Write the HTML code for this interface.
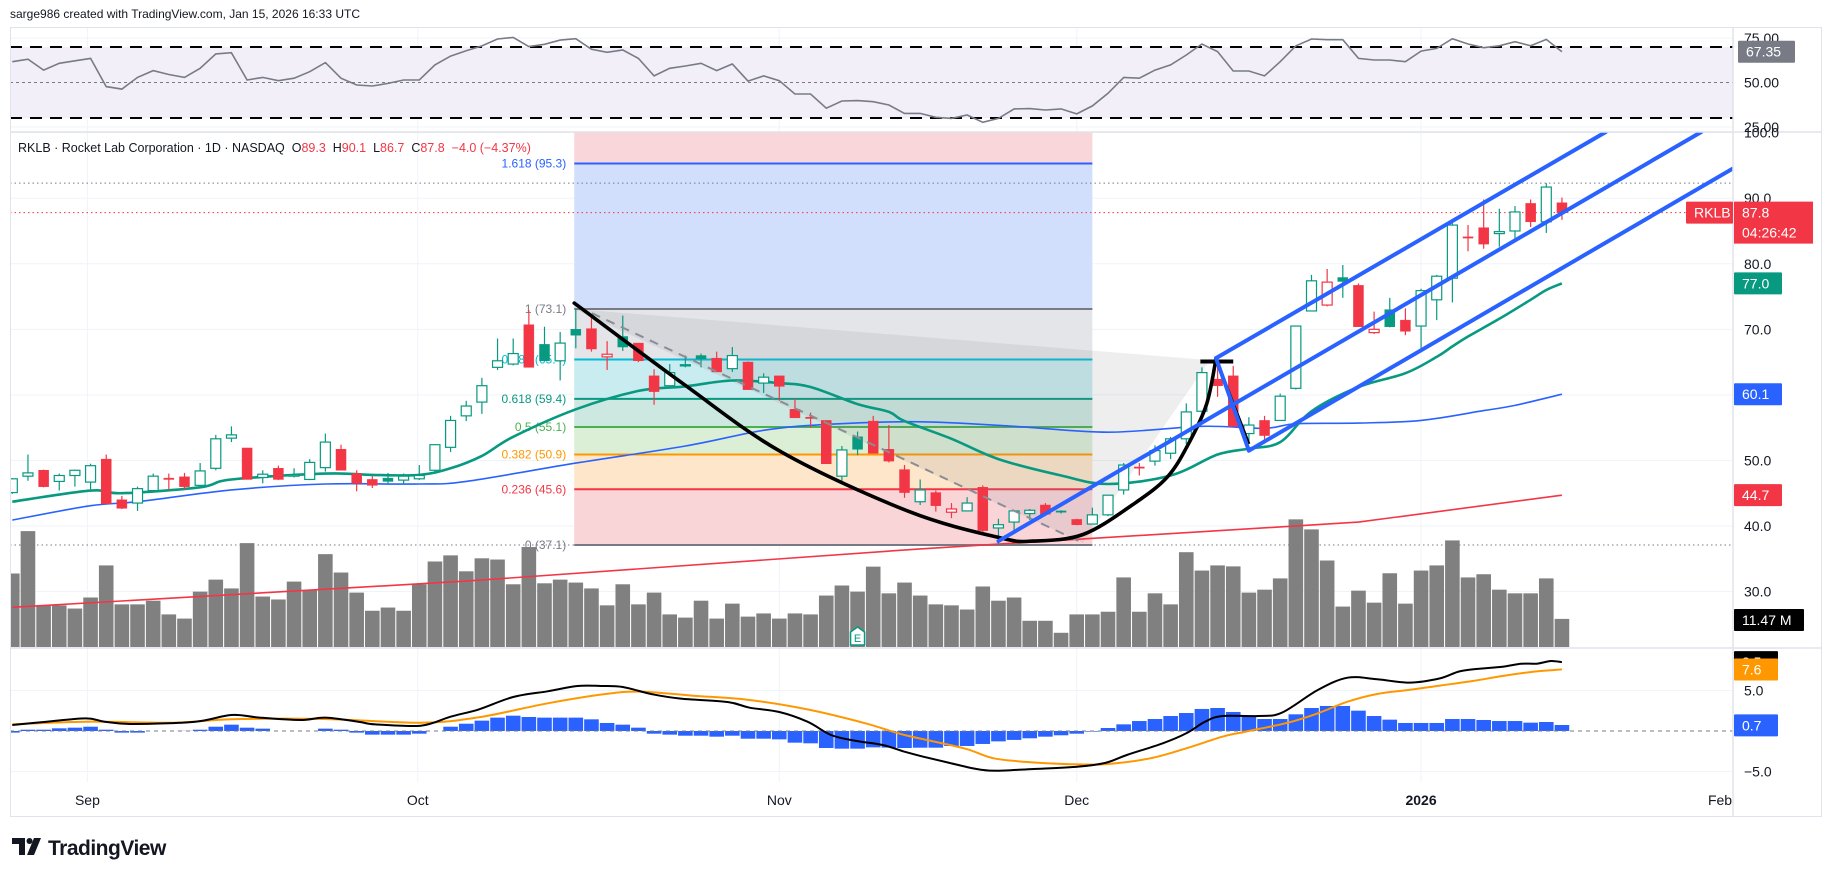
<!DOCTYPE html>
<html><head><meta charset="utf-8"><title>RKLB chart</title>
<style>
html,body{margin:0;padding:0;background:#fff;}
body{width:1827px;height:878px;overflow:hidden;position:relative;font-family:"Liberation Sans",sans-serif;}
#hdr{position:absolute;left:10px;top:7px;font-size:12px;color:#131722;}
svg{position:absolute;left:0;top:0;}
text{font-family:"Liberation Sans",sans-serif;}
</style></head>
<body>
<div id="hdr">sarge986 created with TradingView.com, Jan 15, 2026 16:33 UTC</div>
<svg id="chart" width="1827" height="878" viewBox="0 0 1827 878">
<defs>
<clipPath id="cMain"><rect x="10" y="132" width="1723" height="516"/></clipPath>
<clipPath id="cRsi"><rect x="10" y="27" width="1723" height="105"/></clipPath>
<clipPath id="cMacd"><rect x="10" y="648" width="1723" height="134"/></clipPath>
<clipPath id="cAxisM"><rect x="1733" y="648" width="94" height="134"/></clipPath>
<clipPath id="cTime"><rect x="10" y="782" width="1723" height="35"/></clipPath>
</defs>
</svg>
<script>
// ---------- DATA ----------
const opens = [45.1,47.6,48.5,46.8,47.7,46.7,50.2,44.0,43.5,45.4,47.3,47.5,46.2,48.8,53.4,51.9,47.4,48.8,47.6,47.1,48.9,51.7,48.0,47.1,47.3,47.0,47.2,48.5,52.0,56.8,58.9,64.2,64.7,70.7,67.7,65.2,70.0,70.1,65.8,68.9,67.9,62.9,61.4,64.5,66.0,65.6,64.0,65.0,61.8,62.9,57.8,56.6,56.1,47.6,53.6,56.0,51.7,48.6,43.7,45.1,42.1,42.3,45.9,39.7,40.6,41.9,43.2,42.3,41.0,40.3,41.7,45.5,49.0,49.9,51.1,53.3,57.5,62.4,62.9,54.1,56.1,56.1,61.0,72.8,73.7,77.9,76.7,69.5,73.0,71.4,70.5,74.5,77.8,84.1,85.5,84.6,85.0,89.2,86.4,89.3];
const highs = [47.3,50.9,48.6,48.0,48.6,49.5,50.9,44.6,46.0,48.0,48.0,48.1,49.6,53.9,55.2,51.9,48.5,49.2,48.8,50.2,54.1,52.4,48.5,47.6,48.1,48.0,49.3,52.5,56.8,59.1,62.6,68.6,68.6,72.9,70.4,69.6,73.1,72.1,68.2,72.1,67.9,63.9,64.7,66.0,66.3,66.6,67.3,65.1,63.3,62.9,59.4,57.3,56.1,52.2,54.4,56.8,55.4,49.3,47.1,45.4,43.5,44.4,46.2,41.1,42.3,42.6,43.5,42.4,41.1,42.8,44.7,49.6,49.6,52.3,53.6,58.7,64.2,65.2,64.4,56.6,56.8,60.2,70.5,78.3,79.2,79.8,77.0,72.7,74.8,73.2,76.2,78.3,86.2,85.9,89.8,88.4,88.8,89.8,92.3,90.1];
const lows = [44.9,46.9,45.9,45.4,46.0,45.6,43.4,42.6,42.3,45.4,45.5,45.6,45.9,48.5,52.8,47.1,46.5,47.0,47.4,47.0,48.3,48.5,45.3,45.8,46.3,46.4,47.0,48.3,51.3,56.0,57.1,63.8,64.5,64.2,65.2,62.2,67.1,66.6,63.8,66.7,65.0,58.5,61.0,64.2,64.2,63.5,63.5,60.8,60.3,59.1,56.5,55.0,49.5,46.4,50.8,51.1,49.7,44.3,43.2,42.2,41.2,42.3,39.1,37.1,39.3,40.9,41.7,41.9,40.1,40.3,41.5,44.8,47.7,49.2,50.2,52.5,56.7,59.7,55.2,52.9,53.0,56.1,60.8,72.8,73.5,74.8,70.4,69.3,70.3,69.1,67.1,71.4,74.1,81.9,82.3,82.6,83.8,85.6,84.7,86.7];
const closes = [47.2,48.1,46.0,47.7,48.5,49.2,43.4,42.7,45.7,47.6,47.1,46.0,48.4,53.3,53.9,47.1,47.9,47.1,47.8,49.7,52.8,48.5,46.5,46.2,46.8,47.6,47.7,52.4,56.1,58.3,61.4,65.2,66.3,64.2,65.2,67.9,69.1,67.0,66.2,67.3,65.2,60.5,63.4,64.6,65.5,63.5,66.0,60.8,62.7,61.3,56.5,56.4,49.5,51.6,51.7,51.1,49.9,45.1,45.5,43.1,42.6,43.5,39.3,40.2,42.3,42.4,41.8,42.1,40.2,41.7,44.7,49.3,48.9,51.5,53.3,57.4,63.4,61.4,55.2,55.4,53.8,59.8,70.5,77.4,77.2,77.3,70.4,70.0,70.4,69.7,75.9,78.1,85.9,84.0,83.0,84.9,87.9,86.4,91.7,87.8];
const volumes = [30,47.3,17,17,15.7,20.2,33.3,17.4,17.4,18.9,13.3,11.6,22.6,27.5,23.9,42.4,20.6,19.4,26.7,23.2,37.9,30.4,22.2,14.8,16.1,14.8,25.6,34.9,37.4,30.9,36.2,35.7,25.6,40.8,26,27.5,26.3,23.9,17,25.6,17.4,22.2,13.3,12,18.9,11.6,17.7,12.4,13.7,11.6,13.7,13.3,21,25.1,22.6,32.8,21.9,26.3,21,17.4,17,15.3,24.7,18.9,20.2,10.7,10.7,5.8,13.3,13.3,14.4,28.4,14.4,21.9,17.4,38.7,31.2,33.3,32.9,22.2,23.4,28,52.1,48,35.3,16.5,23,18.1,30.1,17.7,31.2,33.3,43.5,28.4,29.7,23.4,21.9,21.9,28,11.47];
const ema20Idx = [0,5,7,12,14,20,23,26,28,30,32,36,40,43,46,49,51,54,56,57,60,63,67,70,74,77,79,81,83,86,89,91,92,93,95,97,98,99];
const ema20Val = [43.7,45.4,45.0,45.9,47.1,48.0,47.8,47.8,48.8,50.7,53.6,57.8,60.6,61.3,62.2,61.8,61.2,58.6,57.4,56.0,53.3,50.2,47.7,46.4,47.7,50.9,51.8,52.8,57.5,61.2,63.3,65.8,67.4,68.9,71.6,74.5,76.0,77.0];
const sma50Idx = [0,5,8,14,20,26,29,36,43,48,52,58,64,70,76,80,82,86,90,94,96,99];
const sma50Val = [40.9,43.1,43.7,45.5,46.4,46.4,46.8,49.6,52.2,54.6,55.5,55.9,55.2,54.3,55.2,54.9,55.6,55.7,56.1,57.6,58.4,60.1];
const sma200Idx = [0,29,58,86,99];
const sma200Val = [27.6,31.6,36.5,40.6,44.7];
const rsi = [61.7,63.1,57.0,60.8,62.2,63.6,47.7,46.3,52.9,56.7,54.5,52.9,58.0,66.1,66.8,51.4,52.9,51.0,52.4,56.1,61.2,52.4,48.6,48.0,49.5,51.4,51.4,59.9,64.9,67.9,70.6,74.5,75.4,70.2,71.5,73.9,74.7,68.7,67.0,68.3,63.6,53.7,58.0,59.3,60.8,56.7,60.4,50.8,53.7,51.0,43.5,43.5,35.5,39.6,39.8,39.2,37.3,32.6,32.6,30.4,29.8,31.7,27.6,29.8,35.1,35.3,34.5,35.1,32.3,36.8,43.9,52.9,52.4,57.0,59.9,65.5,71.7,67.4,56.5,56.5,53.7,61.7,70.6,74.5,74.1,74.1,63.6,62.7,62.7,61.7,67.7,69.2,74.7,71.7,69.6,70.7,73.0,70.7,74.3,67.35];
const macdHist = [-0.2,0.16,0.16,0.33,0.41,0.53,0.16,-0.2,-0.2,0,0,0.02,0.16,0.53,0.78,0.41,0.29,0,0,0,0.29,0.16,-0.2,-0.45,-0.45,-0.45,-0.33,0,0.53,0.9,1.28,1.65,1.89,1.73,1.65,1.65,1.65,1.44,0.99,0.78,0.41,-0.33,-0.45,-0.58,-0.58,-0.7,-0.58,-0.95,-0.95,-1.03,-1.44,-1.52,-2.1,-2.18,-2.18,-2.02,-2.05,-2.1,-2.06,-2.06,-1.85,-1.85,-1.6,-1.28,-1.1,-0.9,-0.7,-0.53,-0.33,-0.08,0.37,0.82,1.23,1.48,1.85,2.22,2.72,2.84,2.35,1.89,1.48,1.48,2.06,2.84,3.09,3.09,2.51,1.85,1.4,0.99,0.99,0.99,1.48,1.48,1.36,1.23,1.23,1.03,1.11,0.74];
const macdIdx = [0,2.2,4.7,5.9,7.7,11.7,14,15.8,18.4,20,22.1,23.2,26.1,28,29.8,32,34.2,36.1,37.6,39,40.9,42.7,45.7,47.1,49,50.8,52.3,53.8,55.6,57,58.2,59.8,61.7,63,65.1,68.1,69.9,71.2,73.5,75,76.2,77.3,79.6,81.1,83.4,85.3,87.2,89.3,91.2,92.4,93.5,95.2,96.4,97.4,98.3,99];
const macdVal = [0.74,1.15,1.56,1.15,0.86,1.15,1.98,1.65,1.36,1.65,1.15,0.82,0.66,1.77,2.67,4.2,4.9,5.56,5.56,5.43,4.53,4.0,3.58,2.88,2.35,1.15,-0.49,-1.19,-1.73,-2.55,-3.17,-3.9,-4.73,-4.9,-4.7,-4.4,-3.9,-2.96,-1.52,-0.29,1.15,1.85,1.85,2.26,5.06,6.58,6.38,5.97,6.5,7.33,7.65,7.94,8.31,8.31,8.64,8.5];
const signalIdx = [0,4.7,10.3,14,19.9,26.1,29.8,34.2,37.9,40.1,43.5,47.1,50.8,54.5,57,60.8,62.7,65.4,68.1,70,72.7,75,77.3,78.8,81.5,83.4,85.3,87.2,89.5,91.2,93.3,95.2,97.1,99];
const signalVal = [0.82,1.15,1.03,1.44,1.48,1.03,1.69,3.42,4.57,4.86,4.36,3.83,2.67,0.95,-0.49,-2.14,-3.37,-3.9,-4.12,-4.07,-3.37,-2.14,-0.7,-0.08,1.03,2.18,3.62,4.57,5.14,5.6,6.17,6.79,7.3,7.6];
const fibRatios = ["1.618","1","0.786","0.618","0.5","0.382","0.236","0"];
const fibPrices = [95.3,73.1,65.4,59.4,55.1,50.9,45.6,37.1];
const priceTicks = [100,90,80,70,60,50,40,30];
const rsiTicks = [75,50,25];
const macdTicks = [5,-5];
const monthLabels = ["Sep","Oct","Nov","Dec","2026","Feb"];
const monthBars = [4.8,25.9,49.0,68.0,90.0,109.1];

// ---------- AXES ----------
function X(i){return 12.3+i*15.653;}
function PY(p){return 198.2+(90-p)*6.556;}
function RY(r){return 82.5-(r-50)*1.775;}
function MY(v){return 731-v*8.1;}
function VH(v){return v*2.45;}
const VBASE=647;

const NS="http://www.w3.org/2000/svg";
const svg=document.getElementById('chart');
function mk(tag,attrs,parent){const e=document.createElementNS(NS,tag);for(const k in attrs)e.setAttribute(k,attrs[k]);(parent||svg).appendChild(e);return e;}
function txt(str,attrs,parent){const e=mk('text',attrs,parent);e.textContent=str;return e;}
function poly(idx,val,fx,fy){return idx.map((b,k)=>fx(b).toFixed(1)+','+fy(val[k]).toFixed(1)).join(' ');}
function smoothPath(pts){let d='M'+pts[0][0]+','+pts[0][1];for(let i=0;i<pts.length-1;i++){const p0=pts[i-1]||pts[i],p1=pts[i],p2=pts[i+1],p3=pts[i+2]||p2;const c1x=p1[0]+(p2[0]-p0[0])/6,c1y=p1[1]+(p2[1]-p0[1])/6,c2x=p2[0]-(p3[0]-p1[0])/6,c2y=p2[1]-(p3[1]-p1[1])/6;d+=' C'+c1x.toFixed(1)+','+c1y.toFixed(1)+' '+c2x.toFixed(1)+','+c2y.toFixed(1)+' '+p2[0].toFixed(1)+','+p2[1].toFixed(1);}return d;}

// ---------- GRID ----------
const grid=mk('g',{});


monthBars.forEach((b,k)=>{if(k<5){const l=mk('line',{x1:X(b),x2:X(b),y1:27,y2:782,stroke:'#f0f3fa','stroke-width':1},grid);

}});
priceTicks.forEach(p=>{const l=mk('line',{x1:10,x2:1733,y1:PY(p),y2:PY(p),stroke:'#f0f3fa'},grid);

});
[RY(75),RY(25),MY(5),MY(-5)].forEach(y=>{const l=mk('line',{x1:10,x2:1733,y1:y,y2:y,stroke:'#f0f3fa'},grid);

});

// ---------- RSI PANE ----------
const rsiG=mk('g',{'clip-path':'url(#cRsi)'});


const rb=mk('rect',{x:10,y:RY(70),width:1723,height:RY(30)-RY(70),fill:'#f2eff9'},rsiG);


[70,30].forEach(v=>{const l=mk('line',{x1:10,x2:1733,y1:RY(v),y2:RY(v),stroke:'#000','stroke-width':2,'stroke-dasharray':'12 8'},rsiG);

});
const rm=mk('line',{x1:10,x2:1733,y1:RY(50),y2:RY(50),stroke:'#787b86','stroke-width':1,'stroke-dasharray':'3 3'},rsiG);


const rl=mk('polyline',{points:rsi.map((v,i)=>X(i).toFixed(1)+','+RY(v).toFixed(1)).join(' '),fill:'none',stroke:'#787b86','stroke-width':1.6},rsiG);



// ---------- MAIN PANE ----------
const mainG=mk('g',{'clip-path':'url(#cMain)'});


const fx0=X(35.9), fx1=X(69.0);
const fibFill=['#f9d6d9','#d1defc','#e4e5e8','#c8ecef','#cde8e0','#dbeed6','#fde6c9','#f9d5d8'];
const fibLine=['#2962ff','#787b86','#00bcd4','#089981','#4caf50','#ff9800','#f23645','#787b86'];
const fibG=mk('g',{},mainG);


let prevY=132;
fibPrices.forEach((p,k)=>{const y=PY(p);const r=mk('rect',{x:fx0,y:prevY,width:fx1-fx0,height:y-prevY,fill:fibFill[k]},fibG);


prevY=y;});
const tri=mk('polygon',{points:[[35.9,73.1],[76.5,65.3],[68.4,37.4]].map(q=>X(q[0]).toFixed(1)+','+PY(q[1]).toFixed(1)).join(' '),fill:'rgba(120,123,134,0.13)'},mainG);


fibPrices.forEach((p,k)=>{const y=PY(p);const l=mk('line',{x1:fx0,x2:fx1,y1:y,y2:y,stroke:fibLine[k],'stroke-width':2},fibG);


const t=txt(fibRatios[k]+' ('+p.toFixed(1)+')',{x:fx0-8,y:y+4,'text-anchor':'end','font-size':12,fill:fibLine[k]},fibG);

});

// volume
const volG=mk('g',{},mainG);


volumes.forEach((v,i)=>{const h=VH(v);const r=mk('rect',{x:X(i)-7.3,y:VBASE-h,width:14.6,height:h,fill:'#808080'},volG);

});

// dotted reference lines
[[92.3,'#787b86'],[87.8,'#f23645'],[37.1,'#787b86']].forEach(a=>{const l=mk('line',{x1:10,x2:1733,y1:PY(a[0]),y2:PY(a[0]),stroke:a[1],'stroke-width':1,'stroke-dasharray':'1.5 3'},mainG);

});

// moving averages
const ma200=mk('polyline',{points:poly(sma200Idx,sma200Val,X,PY),fill:'none',stroke:'#f23645','stroke-width':1.6},mainG);


const ma50=mk('path',{d:smoothPath(sma50Idx.map((b,k)=>[X(b),PY(sma50Val[k])])),fill:'none',stroke:'#2962ff','stroke-width':1.6},mainG);


const ma20=mk('path',{d:smoothPath(ema20Idx.map((b,k)=>[X(b),PY(ema20Val[k])])),fill:'none',stroke:'#089981','stroke-width':2.6},mainG);



// candles
const cG=mk('g',{},mainG);


closes.forEach((c,i)=>{const o=opens[i];const prev=i?closes[i-1]:o;const col=c>=prev?'#089981':'#f23645';const hollow=c>o;const x=X(i);
const w=mk('line',{x1:x,x2:x,y1:PY(highs[i]),y2:PY(lows[i]),stroke:col,'stroke-width':1.2},cG);


const yt=PY(Math.max(o,c)),yb=PY(Math.min(o,c));
const b=mk('rect',{x:x-5,y:yt,width:10,height:Math.max(1.2,yb-yt),fill:hollow?'#fff':col,stroke:col,'stroke-width':hollow?1.2:0.5},cG);

});

// drawings
const dash=mk('line',{x1:X(36.1),y1:PY(73.5),x2:X(68.4),y2:PY(37.4),stroke:'#8a8d96','stroke-width':2,'stroke-dasharray':'9 7'},mainG);


const cupPts=[[35.9,74.0],[42.8,61.8],[49.2,51.2],[57.3,42.2],[63.1,38.2],[65.2,37.7],[68.4,38.7],[71.6,43.3],[73.8,47.5],[75.2,52.8],[76.3,58.6],[76.9,65.5]];
const cup=mk('path',{d:smoothPath(cupPts.map(q=>[X(q[0]),PY(q[1])])),fill:'none',stroke:'#000','stroke-width':3.6,'stroke-linecap':'round'},mainG);


const tick=mk('line',{x1:X(75.9),x2:X(78.0),y1:PY(65.1),y2:PY(65.1),stroke:'#000','stroke-width':4},mainG);


const handle=mk('line',{x1:X(76.9),y1:PY(65.5),x2:X(79.0),y2:PY(52.5),stroke:'#000','stroke-width':3},mainG);


[[[76.9,65.6],[79.0,51.5],'channel-zigzag'],[[76.9,65.6],[101.8,100.1],'channel-upper-line'],[[63.0,37.7],[107.9,100.1],'channel-middle-line'],[[79.0,51.5],[109.9,94.5],'channel-lower-line']].forEach(s=>{
const l=mk('line',{x1:X(s[0][0]),y1:PY(s[0][1]),x2:X(s[1][0]),y2:PY(s[1][1]),stroke:'#2962ff','stroke-width':4,'stroke-linecap':'round'},mainG);

});

// earnings marker
const eG=mk('g',{},svg);


const ex=X(54);
mk('path',{d:`M${ex-7},${632} L${ex},${627} L${ex+7},${632} L${ex+7},${645} L${ex-7},${645} Z`,fill:'#fff',stroke:'#089981','stroke-width':1.5},eG);
txt('E',{x:ex,y:642,'text-anchor':'middle','font-size':11,fill:'#089981'},eG);

// header legend
const lg=txt('',{x:18,y:152,'font-size':12.5,fill:'#131722'},svg);


[['RKLB · Rocket Lab Corporation · 1D · NASDAQ ','#131722'],[' O','#131722'],['89.3','#f23645'],['  H','#131722'],['90.1','#f23645'],['  L','#131722'],['86.7','#f23645'],['  C','#131722'],['87.8','#f23645'],['  −4.0 (−4.37%)','#f23645']].forEach(s=>{const t=mk('tspan',{fill:s[1]},lg);t.textContent=s[0];});
lg.setAttribute('xml:space','preserve');
lg.style.whiteSpace='pre';

// ---------- MACD PANE ----------
const mG=mk('g',{'clip-path':'url(#cMacd)'});


macdHist.forEach((v,i)=>{const y0=MY(0),y1=MY(v);const r=mk('rect',{x:X(i)-7.3,y:Math.min(y0,y1),width:14.6,height:Math.abs(y1-y0),fill:'#2962ff'},mG);

});
const z=mk('line',{x1:10,x2:1733,y1:MY(0),y2:MY(0),stroke:'#787b86','stroke-dasharray':'4 4'},mG);


const sl=mk('path',{d:smoothPath(signalIdx.map((b,k)=>[X(b),MY(signalVal[k])])),fill:'none',stroke:'#ff9800','stroke-width':2},mG);


const ml=mk('path',{d:smoothPath(macdIdx.map((b,k)=>[X(b),MY(macdVal[k])])),fill:'none',stroke:'#000','stroke-width':2},mG);



// ---------- FRAME ----------
const fr=mk('rect',{x:10.5,y:27.5,width:1811,height:789,fill:'none',stroke:'#e0e3eb'});


[[10,132,1822,132],[10,648,1822,648],[1733,27,1733,817]].forEach(a=>{const l=mk('line',{x1:a[0],y1:a[1],x2:a[2],y2:a[3],stroke:'#e0e3eb','stroke-width':1.5});

});

// ---------- AXES LABELS ----------
const ax=mk('g',{'font-size':14,fill:'#131722'});


priceTicks.forEach(p=>{const t=txt(p.toFixed(1),{x:1744,y:PY(p)+5},ax);

});
rsiTicks.forEach(r=>{const t=txt(r.toFixed(2),{x:1744,y:RY(r)+5},ax);

});
const mAx=mk('g',{'clip-path':'url(#cAxisM)'},ax);
macdTicks.forEach(v=>{const t=txt(v<0?'−'+Math.abs(v).toFixed(1):v.toFixed(1),{x:1744,y:MY(v)+5},mAx);

});

function badge(label,x,y,w,h,bg,parent,name){const g=mk('g',{},parent||svg);


mk('rect',{x:x,y:y,width:w,height:h,fill:bg,rx:1},g);
txt(label,{x:x+8,y:y+h/2+5,'font-size':14,fill:'#fff'},g);return g;}
badge('RKLB',1686,PY(87.8)-11,47,22,'#f23645',null,'symbol-price-tag');
const pb=mk('g',{});


mk('rect',{x:1734,y:PY(87.8)-11,width:79,height:42,fill:'#f23645'},pb);
txt('87.8',{x:1742,y:PY(87.8)+5,'font-size':14,fill:'#fff'},pb);
txt('04:26:42',{x:1742,y:PY(87.8)+25,'font-size':14,fill:'#fff'},pb);
badge(ema20Val[ema20Val.length-1].toFixed(1),1734,PY(77.0)-11,48,22,'#089981',null,'ema-20-badge');
badge(sma50Val[sma50Val.length-1].toFixed(1),1734,PY(60.1)-11,48,22,'#2962ff',null,'sma-50-badge');
badge(sma200Val[sma200Val.length-1].toFixed(1),1734,PY(44.7)-11,48,22,'#f23645',null,'sma-200-badge');
badge('11.47 M',1734,609,70,22,'#000',null,'volume-badge');
badge('67.35',1738,RY(67.35)-11,57,22,'#787b86',null,'rsi-value-badge');
const mb=mk('g',{'clip-path':'url(#cAxisM)'});
badge(macdVal[macdVal.length-1].toFixed(1),1734,MY(8.5)-11,44,22,'#000',mb,'macd-value-badge');
badge(signalVal[signalVal.length-1].toFixed(1),1734,MY(7.6)-11,44,22,'#ff9800',mb,'signal-value-badge');
badge(macdHist[macdHist.length-1].toFixed(1),1734,MY(0.7)-11,44,22,'#2962ff',mb,'histogram-value-badge');

// time axis
const tG=mk('g',{'clip-path':'url(#cTime)','font-size':14,fill:'#131722'});


monthLabels.forEach((m,k)=>{const t=txt(m,{x:X(monthBars[k]),y:805,'text-anchor':'middle','font-weight':m==='2026'?'bold':'normal'},tG);

});

// logo
const logo=mk('g',{});


mk('path',{d:'M12,838 h13 v17 h-6 v-11 h-7 Z',fill:'#131722'},logo);
mk('circle',{cx:29.5,cy:841,r:3,fill:'#131722'},logo);
mk('path',{d:'M34,838 h7 l-7,17 h-7 Z',fill:'#131722'},logo);
txt('TradingView',{x:48,y:855,'font-size':21,'font-weight':'bold',fill:'#131722','letter-spacing':'-0.5'},logo);
</script>
</body></html>
